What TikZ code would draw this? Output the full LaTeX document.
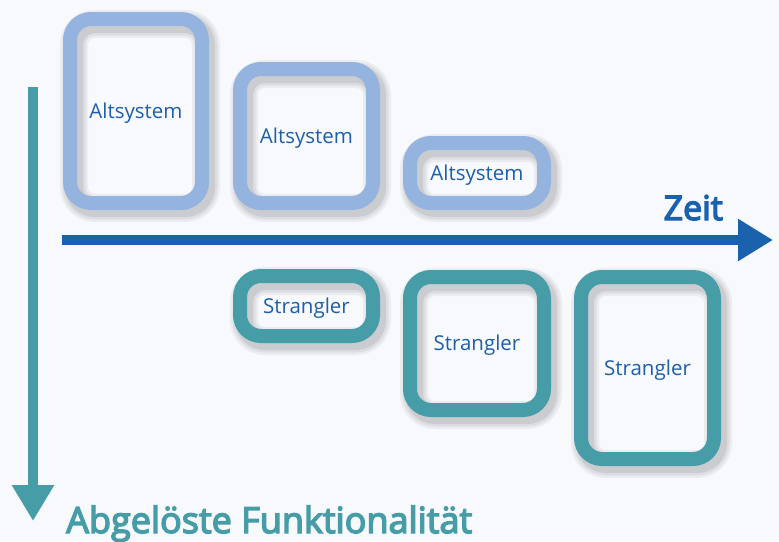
\documentclass[tikz,border=0pt]{standalone}
\usepackage{fontspec}
\setmainfont{Open Sans}
\newfontfamily\semib{Open Sans}[FakeBold=4]
\usetikzlibrary{arrows.meta}
\definecolor{bgc}{HTML}{F7F9FD}
\definecolor{altc}{HTML}{94B3DF}
\definecolor{strc}{HTML}{479DA7}
\definecolor{arrc}{HTML}{1A62AD}
\definecolor{txtc}{HTML}{1F5FA8}
\tikzset{
  shad/.style={
    preaction={draw=black, opacity=0.05, line width=28pt, transform canvas={shift={(4pt,-5pt)}}},
    preaction={draw=black, opacity=0.06, line width=23pt, transform canvas={shift={(4pt,-5pt)}}},
    preaction={draw=black, opacity=0.08, line width=18pt, transform canvas={shift={(4pt,-5pt)}}}},
  boxbase/.style={shad, rectangle, rounded corners=21pt, line width=14pt, fill=none,
    text=txtc, font=\fontsize{20.5}{24}\selectfont, inner sep=0pt,
    text height=17.5pt, text depth=2.9pt},
  altbox/.style={boxbase, draw=altc},
  strbox/.style={boxbase, draw=strc},
}
\begin{document}
\begin{tikzpicture}[x=1pt,y=-1pt]
\fill[bgc] (0,0) rectangle (779,541);
\useasboundingbox (0,0) rectangle (779,541);
% arrows
\coordinate (h0) at (62,240);
\coordinate (h1) at (773,240);
\draw[arrc, line width=10pt, -{Triangle[length=35pt,width=40pt]}] (h0) -- (h1);
\coordinate (v0) at (33,87);
\coordinate (v1) at (33,521);
\draw[strc, line width=10pt, -{Triangle[length=36pt,width=40pt]}] (v0) -- (v1);
% boxes
\node[altbox, minimum width=132pt, minimum height=184pt] (a1) at (136,111) {Altsystem};
\node[altbox, minimum width=133pt, minimum height=134pt] (a2) at (306.5,136) {Altsystem};
\node[altbox, minimum width=134pt, minimum height=60pt] (a3) at (477,173) {Altsystem};
\node[strbox, minimum width=133pt, minimum height=60pt] (s1) at (306.5,306) {Strangler};
\node[strbox, minimum width=134pt, minimum height=133pt] (s2) at (477,343.5) {Strangler};
\node[strbox, minimum width=133pt, minimum height=182pt] (s3) at (647.5,368) {Strangler};
% labels
\node[anchor=base east, inner sep=0pt, text=arrc, font=\semib\fontsize{34}{38}\selectfont] (zeit) at (723,220) {Zeit};
\node[anchor=base west, inner sep=0pt, text=strc, font=\semib\fontsize{36}{40}\selectfont] (abg) at (66,533) {Abgelöste Funktionalität};
\end{tikzpicture}
\end{document}
